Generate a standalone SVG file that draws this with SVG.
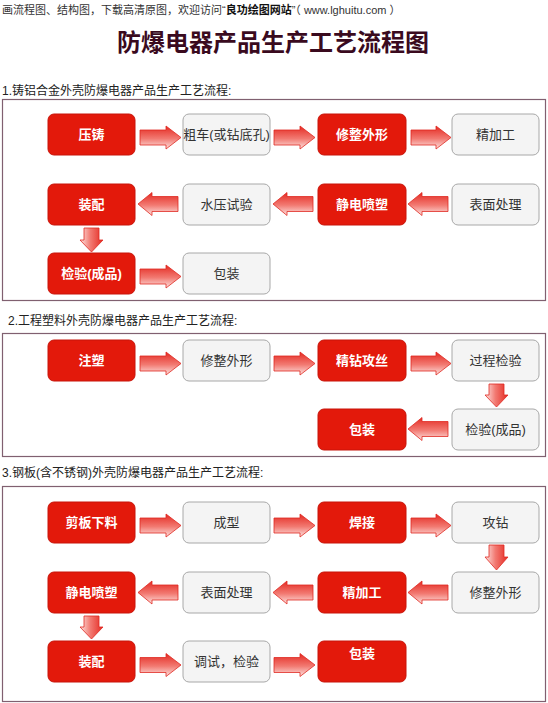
<svg xmlns="http://www.w3.org/2000/svg" width="548" height="703" viewBox="0 0 548 703">
<defs>
<linearGradient id="gh" x1="0" y1="0" x2="0" y2="1">
<stop offset="0" stop-color="#e42a22"/>
<stop offset="0.55" stop-color="#f27a72"/>
<stop offset="1" stop-color="#fde4e2"/>
</linearGradient>
<linearGradient id="gv" x1="0" y1="0" x2="1" y2="0">
<stop offset="0" stop-color="#fde4e2"/>
<stop offset="0.45" stop-color="#f27a72"/>
<stop offset="1" stop-color="#e42a22"/>
</linearGradient>
</defs>
<style>
.hdr{font-family:"Liberation Sans","Noto Sans CJK SC",sans-serif;font-size:11px;fill:#333}
.title{font-family:"Liberation Sans","Noto Sans CJK SC",sans-serif;font-size:24px;font-weight:bold;fill:#3a0a1e}
.sec{font-family:"Liberation Sans","Noto Sans CJK SC",sans-serif;font-size:12px;fill:#222}
.frame{fill:#fff;stroke:#806070;stroke-width:1.2}
.red rect{fill:#e3190b;stroke:#c8140a;stroke-width:1}
.grey rect{fill:#f4f4f4;stroke:#a8a8a8;stroke-width:1}
.red text{font-family:"Liberation Sans","Noto Sans CJK SC",sans-serif;font-size:13px;font-weight:bold;fill:#fff;text-anchor:middle;dominant-baseline:central}
.grey text{font-family:"Liberation Sans","Noto Sans CJK SC",sans-serif;font-size:13px;fill:#333;text-anchor:middle;dominant-baseline:central}
.ah{fill:url(#gh);stroke:#df2a22;stroke-width:0.8}
.av{fill:url(#gv);stroke:#df2a22;stroke-width:0.8}
</style>
<rect width="548" height="703" fill="#fff"/>
<text class="hdr" x="2" y="14">画流程图、结构图，下载高清原图，欢迎访问“<tspan font-weight="bold" fill="#111">良功绘图网站</tspan>”（ www.lghuitu.com ）</text>
<text class="title" x="273" y="51" text-anchor="middle">防爆电器产品生产工艺流程图</text>

<text class="sec" x="2" y="95">1.铸铝合金外壳防爆电器产品生产工艺流程:</text>
<rect class="frame" x="2.5" y="99.5" width="543" height="201"/>
<text class="sec" x="8" y="325">2.工程塑料外壳防爆电器产品生产工艺流程:</text>
<rect class="frame" x="2.5" y="333.5" width="543" height="123"/>
<text class="sec" x="2" y="477">3.钢板(含不锈钢)外壳防爆电器产品生产工艺流程:</text>
<rect class="frame" x="2.5" y="486.5" width="543" height="215"/>

<!-- Section 1 nodes -->
<g id="s1-yazhu" class="red"><rect x="48" y="114" width="87" height="41" rx="6"/><text x="91.5" y="134.5">压铸</text></g>
<g id="s1-cuche" class="grey"><rect x="183" y="114" width="87" height="41" rx="6"/><text x="226.5" y="134.5">粗车(或钻底孔)</text></g>
<g id="s1-xiuzheng" class="red"><rect x="318" y="114" width="88" height="41" rx="6"/><text x="362" y="134.5">修整外形</text></g>
<g id="s1-jingjiagong" class="grey"><rect x="452" y="114" width="87" height="41" rx="6"/><text x="495.5" y="134.5">精加工</text></g>
<g id="s1-zhuangpei" class="red"><rect x="48" y="184" width="87" height="41" rx="6"/><text x="91.5" y="204.5">装配</text></g>
<g id="s1-shuiya" class="grey"><rect x="183" y="184" width="87" height="41" rx="6"/><text x="226.5" y="204.5">水压试验</text></g>
<g id="s1-jingdian" class="red"><rect x="318" y="184" width="88" height="41" rx="6"/><text x="362" y="204.5">静电喷塑</text></g>
<g id="s1-biaomian" class="grey"><rect x="452" y="184" width="87" height="41" rx="6"/><text x="495.5" y="204.5">表面处理</text></g>
<g id="s1-jianyan" class="red"><rect x="48" y="253" width="87" height="41" rx="6"/><text x="91.5" y="273.5">检验(成品)</text></g>
<g id="s1-baozhuang" class="grey"><rect x="183" y="253" width="87" height="41" rx="6"/><text x="226.5" y="273.5">包装</text></g>

<!-- Section 2 nodes -->
<g id="s2-zhusu" class="red"><rect x="48" y="340" width="87" height="41" rx="6"/><text x="91.5" y="360.5">注塑</text></g>
<g id="s2-xiuzheng" class="grey"><rect x="183" y="340" width="87" height="41" rx="6"/><text x="226.5" y="360.5">修整外形</text></g>
<g id="s2-jingzuan" class="red"><rect x="318" y="340" width="88" height="41" rx="6"/><text x="362" y="360.5">精钻攻丝</text></g>
<g id="s2-guocheng" class="grey"><rect x="452" y="340" width="87" height="41" rx="6"/><text x="495.5" y="360.5">过程检验</text></g>
<g id="s2-baozhuang" class="red"><rect x="318" y="409" width="88" height="41" rx="6"/><text x="362" y="429.5">包装</text></g>
<g id="s2-jianyan" class="grey"><rect x="452" y="409" width="87" height="41" rx="6"/><text x="495.5" y="429.5">检验(成品)</text></g>

<!-- Section 3 nodes -->
<g id="s3-jianban" class="red"><rect x="48" y="502" width="87" height="41" rx="6"/><text x="91.5" y="522.5">剪板下料</text></g>
<g id="s3-chengxing" class="grey"><rect x="183" y="502" width="87" height="41" rx="6"/><text x="226.5" y="522.5">成型</text></g>
<g id="s3-hanjie" class="red"><rect x="318" y="502" width="88" height="41" rx="6"/><text x="362" y="522.5">焊接</text></g>
<g id="s3-gongzuan" class="grey"><rect x="452" y="502" width="87" height="41" rx="6"/><text x="495.5" y="522.5">攻钻</text></g>
<g id="s3-jingdian" class="red"><rect x="48" y="572" width="87" height="41" rx="6"/><text x="91.5" y="592.5">静电喷塑</text></g>
<g id="s3-biaomian" class="grey"><rect x="183" y="572" width="87" height="41" rx="6"/><text x="226.5" y="592.5">表面处理</text></g>
<g id="s3-jingjiagong" class="red"><rect x="318" y="572" width="88" height="41" rx="6"/><text x="362" y="592.5">精加工</text></g>
<g id="s3-xiuzheng" class="grey"><rect x="452" y="572" width="87" height="41" rx="6"/><text x="495.5" y="592.5">修整外形</text></g>
<g id="s3-zhuangpei" class="red"><rect x="48" y="641" width="87" height="41" rx="6"/><text x="91.5" y="661.5">装配</text></g>
<g id="s3-tiaoshi" class="grey"><rect x="183" y="641" width="87" height="41" rx="6"/><text x="226.5" y="661.5">调试，检验</text></g>
<g id="s3-baozhuang" class="red"><rect x="318" y="641" width="88" height="41" rx="6"/><text x="362" y="653">包装</text></g>

<!-- Connectors -->
<g id="connectors">
<!-- section 1 row 1 right arrows (cy 137.5) -->
<path class="ah" d="M140,130 H166 V126 L181,137.5 L166,149 V145 H140 Z"/>
<path class="ah" d="M274,130 H300 V126 L315,137.5 L300,149 V145 H274 Z"/>
<path class="ah" d="M411,130 H436 V126 L451,137.5 L436,149 V145 H411 Z"/>
<!-- section 1 row 2 left arrows (cy 204) -->
<path class="ah" d="M448,196.5 H422 V192.5 L408,204 L422,215.5 V211.5 H448 Z"/>
<path class="ah" d="M313,196.5 H287 V192.5 L273,204 L287,215.5 V211.5 H313 Z"/>
<path class="ah" d="M178,196.5 H152 V192.5 L138,204 L152,215.5 V211.5 H178 Z"/>
<!-- section 1 down -->
<path class="av" d="M84,228 V240 H80 L91.5,252 L103,240 H99 V228 Z"/>
<!-- section 1 row 3 right -->
<path class="ah" d="M140,269 H166 V265 L181,276.5 L166,288 V284 H140 Z"/>

<!-- section 2 row 1 right (cy 363.5) -->
<path class="ah" d="M140,356 H166 V352 L181,363.5 L166,375 V371 H140 Z"/>
<path class="ah" d="M274,356 H300 V352 L315,363.5 L300,375 V371 H274 Z"/>
<path class="ah" d="M411,356 H436 V352 L451,363.5 L436,375 V371 H411 Z"/>
<!-- section 2 down -->
<path class="av" d="M489,384 V395 H485 L496.5,407 L508,395 H504 V384 Z"/>
<!-- section 2 row 2 left -->
<path class="ah" d="M448,421.5 H422 V417.5 L408,429 L422,440.5 V436.5 H448 Z"/>

<!-- section 3 row 1 right (cy 525.5) -->
<path class="ah" d="M140,518 H166 V514 L181,525.5 L166,537 V533 H140 Z"/>
<path class="ah" d="M274,518 H300 V514 L315,525.5 L300,537 V533 H274 Z"/>
<path class="ah" d="M411,518 H436 V514 L451,525.5 L436,537 V533 H411 Z"/>
<!-- section 3 down c4 -->
<path class="av" d="M489,545 V557 H485 L496.5,570 L508,557 H504 V545 Z"/>
<!-- section 3 row 2 left (cy 592.5) -->
<path class="ah" d="M448,585 H422 V581 L408,592.5 L422,604 V600 H448 Z"/>
<path class="ah" d="M313,585 H287 V581 L273,592.5 L287,604 V600 H313 Z"/>
<path class="ah" d="M178,585 H152 V581 L138,592.5 L152,604 V600 H178 Z"/>
<!-- section 3 down c1 -->
<path class="av" d="M84,616 V627 H80 L91.5,639 L103,627 H99 V616 Z"/>
<!-- section 3 row 3 right (cy 665) -->
<path class="ah" d="M140,657.5 H166 V653.5 L181,665 L166,676.5 V672.5 H140 Z"/>
<path class="ah" d="M274,657.5 H300 V653.5 L315,665 L300,676.5 V672.5 H274 Z"/>
</g>
</svg>
